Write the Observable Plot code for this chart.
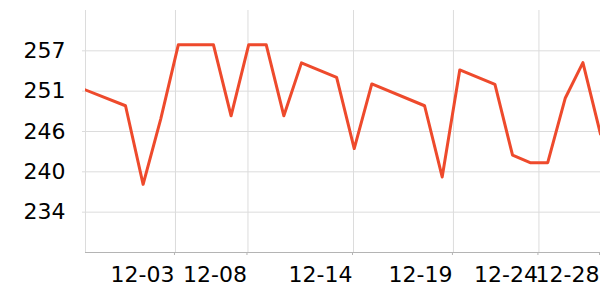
<!DOCTYPE html>
<html>
<head>
<meta charset="utf-8">
<script src="https://cdn.jsdelivr.net/npm/d3@7"></script>
<script src="https://cdn.jsdelivr.net/npm/@observablehq/plot@0.6"></script>
<style>
  html, body { margin: 0; padding: 0; background: #fff; }
</style>
</head>
<body>
<div id="chart"></div>
<script>
// Data (category index along x, value along y)
const dayIndex = [-3, 0, 1, 2, 3, 4, 5, 6, 7, 8, 9, 10, 12, 13, 14, 17, 18, 19, 21, 22, 23, 24, 25, 26, 27];
const prices = [252.14, 249.17, 237.97, 247.27, 257.86, 257.86, 257.86, 247.74, 257.86, 257.86, 247.74, 255.28, 253.22, 243.07, 252.28, 249.17, 239.02, 254.28, 252.22, 242.12, 241.06, 241.06, 250.28, 255.33, 245.13];

const xDomain = [-2.275, 27];
const xTickPos = [2.84, 6.96, 12.96, 18.64, 23.5, 27];
const xTickLabels = ["12-03", "12-08", "12-14", "12-19", "12-24", "12-28"];

const yDomain = [228.25, 262.75];
const yTicks = [234, 239.75, 245.5, 251.25, 257];

const rows = dayIndex.map((d, i) => ({x: d, y: prices[i]}));
const xLabelMap = new Map(xTickPos.map((p, i) => [p, xTickLabels[i]]));

const chart = Plot.plot({
  width: 600,
  height: 300,
  marginLeft: 85,
  marginRight: 0,
  marginTop: 10,
  marginBottom: 48,
  style: {fontFamily: "DejaVu Sans", fontSize: "22px", background: "#fff", color: "#000"},
  x: {domain: xDomain, axis: null, label: null},
  y: {domain: yDomain, axis: null, label: null},
  marks: [
    Plot.gridY({ticks: yTicks, stroke: "#dcdcdc", strokeOpacity: 1}),
    Plot.gridX({ticks: xTickPos, stroke: "#dcdcdc", strokeOpacity: 1}),
    Plot.ruleX([xDomain[0]], {stroke: "#dcdcdc"}),
    Plot.ruleY([yDomain[0]], {stroke: "#b4b4b4"}),
    Plot.line(rows, {x: "x", y: "y", stroke: "#ee4a2c", strokeWidth: 3, clip: true}),
    Plot.axisY({ticks: yTicks, label: null, tickFormat: d => String(Math.round(d)), tickSize: 3, tickPadding: 17, stroke: "#dcdcdc", fill: "#000", fontSize: 22}),
    Plot.axisX({ticks: xTickPos, label: null, tickFormat: d => xLabelMap.get(d), tickSize: 3, tickPadding: 11, textAnchor: "end", dx: -1, stroke: "#b4b4b4", fill: "#000", fontSize: 22})
  ]
});
document.getElementById("chart").appendChild(chart);
</script>
</body>
</html>
